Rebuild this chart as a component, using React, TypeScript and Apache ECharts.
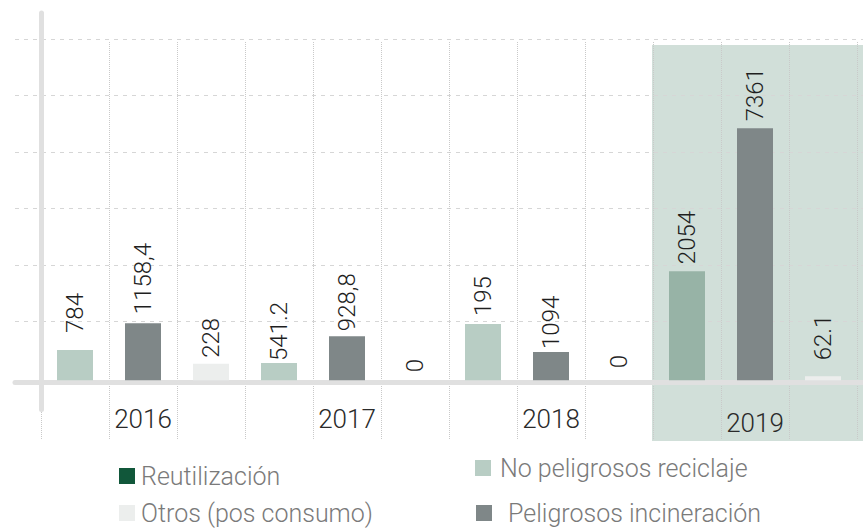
import React, { useEffect, useRef } from "react";
import * as echarts from "echarts";

// ---- data ----
const years = ["2016", "2017", "2018", "2019"];
// order of the three bars inside each year
const slotSeries = ["No peligrosos reciclaje", "Peligrosos incineración", "Otros (pos consumo)"];
const legendNames = ["Reutilización", "Otros (pos consumo)", "No peligrosos reciclaje", "Peligrosos incineración"];

// drawn bar heights (as they appear in the picture, grid step = 100)
const noPeligrososHeight = [53.5, 30.5, 99.5, 193];
const peligrososHeight = [101, 78, 50, 446];
const otrosHeight = [29, 0, 0, 7];
// printed values
const noPeligrososLabel = ["784", "541.2", "195", "2054"];
const peligrososLabel = ["1158,4", "928,8", "1094", "7361"];
const otrosLabel = ["228", "0", "0", "62.1"];

// ---- style ----
const FONT = "Roboto, 'Liberation Sans', sans-serif";
const colors: Record<string, string> = {
  "Reutilización": "#11573a",
  "No peligrosos reciclaje": "#b8cdc4",
  "Otros (pos consumo)": "#eceeed",
  "Peligrosos incineración": "#7f8788",
};
const highlightNP = "#97b3a6";
const labelGap: Record<string, number[]> = {
  "No peligrosos reciclaje": [17, 2, 8, 7],
  "Peligrosos incineración": [9, 5, 3, 7],
  "Otros (pos consumo)": [6, 8, 12, 16],
};
// legend placement: [left, top, text padding-left]
const legendPlace: Record<string, number[]> = {
  "Reutilización": [119, 463.5, 1],
  "Otros (pos consumo)": [119, 500.5, 1],
  "No peligrosos reciclaje": [475, 455.5, 4],
  "Peligrosos incineración": [476, 500.5, 11],
};

export default function App() {
  const ref = useRef<HTMLDivElement>(null);
  useEffect(() => {
    if (!ref.current) return;
    const chart = echarts.init(ref.current, null, { renderer: "svg" });
    const categories = years.flatMap((y) => slotSeries.map((_, k) => `${y}-${k}`));
    const heights: Record<string, number[]> = {
      "No peligrosos reciclaje": noPeligrososHeight,
      "Peligrosos incineración": peligrososHeight,
      "Otros (pos consumo)": otrosHeight,
    };
    const labels: Record<string, string[]> = {
      "No peligrosos reciclaje": noPeligrososLabel,
      "Peligrosos incineración": peligrososLabel,
      "Otros (pos consumo)": otrosLabel,
    };
    const allNames = ["Reutilización", ...slotSeries];
    const series = allNames.map((name) => {
      const k = slotSeries.indexOf(name);
      const data = categories.map((_, i) => {
        const yi = Math.floor(i / 3);
        if (k < 0 || i % 3 !== k) return "-";
        const item: any = {
          value: heights[name][yi],
          label: { distance: labelGap[name][yi], formatter: labels[name][yi] },
        };
        if (name === "No peligrosos reciclaje" && yi === 3) item.itemStyle = { color: highlightNP };
        return item;
      });
      return {
        type: "bar",
        name,
        xAxisIndex: 0,
        yAxisIndex: 0,
        stack: "all",
        barWidth: 36,
        itemStyle: { color: colors[name] },
        label: {
          show: true,
          position: "top",
          rotate: 90,
          align: "left",
          verticalAlign: "middle",
          fontSize: 24,
          fontWeight: 300,
          fontFamily: FONT,
          color: "#1f1f1f",
        },
        data,
      };
    });

    const legends = legendNames.map((name) => {
      const [left, top, pad] = legendPlace[name];
      return {
        left,
        top,
        padding: 0,
        icon: "rect",
        itemWidth: 16,
        itemHeight: 16,
        selectedMode: false,
        textStyle: {
          fontSize: 25,
          lineHeight: 25,
          fontWeight: 300,
          fontFamily: FONT,
          color: "#7a7a7a",
          padding: [0, 0, 0, pad],
        },
        data: [name],
      };
    });

    chart.setOption({
      animation: false,
      grid: [
        { left: 41, right: 6, top: 13, bottom: 122.4 },
        { left: 15, right: 0, top: 39, bottom: 210.5 },
        { left: 41, right: 6, top: 42, bottom: 92 },
      ],
      graphic: [
        { type: "rect", z: -100, silent: true, shape: { x: 652, y: 45, width: 211, height: 396 }, style: { fill: "#d1dfd9" } },
      ],
      xAxis: [
        {
          type: "category",
          gridIndex: 0,
          data: categories,
          axisLine: { show: false },
          axisTick: { show: false },
          splitLine: { show: false },
          axisLabel: {
            interval: 0,
            margin: -3.5,
            fontSize: 26,
            fontWeight: 300,
            fontFamily: FONT,
            color: "#2a2a2a",
            formatter: (v: string, i: number) => {
              if (i % 3 !== 1) return "";
              const y = years[Math.floor(i / 3)];
              return i === 10 ? `{d|${y}}` : y;
            },
            rich: { d: { fontSize: 26, fontWeight: 300, fontFamily: FONT, color: "#2a2a2a", padding: [4, 0, 0, 0] } },
          },
        },
        {
          type: "value",
          gridIndex: 1,
          min: 0,
          max: 1,
          position: "bottom",
          offset: 61,
          axisLine: { show: true, onZero: false, lineStyle: { color: "#e0e0e0", width: 5 } },
          axisTick: { show: false },
          axisLabel: { show: false },
          splitLine: { show: false },
        },
        {
          type: "category",
          gridIndex: 2,
          data: categories,
          axisLine: { show: false },
          axisTick: { show: false },
          axisLabel: { show: false },
          splitLine: { show: true, interval: 0, lineStyle: { color: "#c9c9c9", type: "dotted", width: 1 } },
        },
      ],
      yAxis: [
        {
          type: "value",
          gridIndex: 0,
          min: -52,
          max: 650,
          axisLine: { show: true, lineStyle: { color: "#e0e0e0", width: 5 } },
          axisTick: { show: false },
          axisLabel: { show: false },
          splitLine: { show: false },
        },
        {
          type: "value",
          gridIndex: 1,
          min: 100,
          max: 600,
          interval: 100,
          axisLine: { show: false },
          axisTick: { show: false },
          axisLabel: { show: false },
          splitLine: { show: true, lineStyle: { color: "#d6d6d6", type: [4, 5], width: 1 } },
        },
        {
          type: "value",
          gridIndex: 2,
          show: false,
        },
      ],
      legend: legends,
      series,
    });
    return () => chart.dispose();
  }, []);
  return <div ref={ref} style={{ position: "absolute", left: 0, top: 0, width: 863, height: 532, background: "#fff" }} />;
}
